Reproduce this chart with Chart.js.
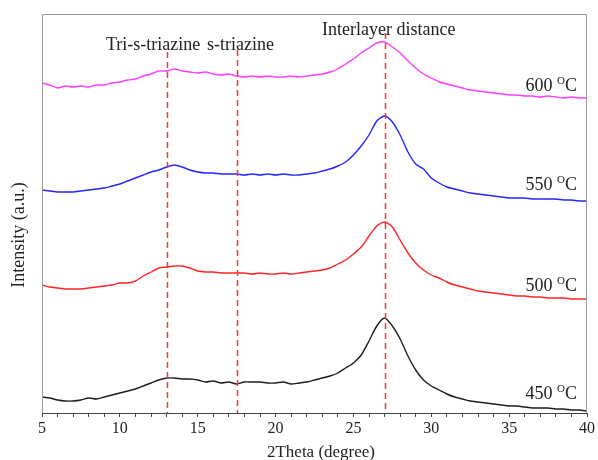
<!DOCTYPE html>
<html>
<head>
<meta charset="utf-8">
<script src="https://cdn.jsdelivr.net/npm/chart.js"></script>
<style>
	html, body { margin: 0; padding: 0; background: #fff; }
	#wrap { width: 598px; height: 460px; }
</style>
</head>
<body>
<div id="wrap"><canvas id="xrdChart" width="598" height="460"></canvas></div>
<script>
//
// data (intensity in arbitrary units)
//
var twoTheta = [5, 5.5, 6, 6.5, 7, 7.5, 8, 8.5, 9, 9.5, 10, 10.5, 11, 11.5, 12, 12.5, 13, 13.5, 14, 14.5,
	15, 15.5, 16, 16.5, 17, 17.5, 18, 18.5, 19, 19.5, 20, 20.5, 21, 21.5, 22, 22.5, 23, 23.5, 24, 24.5,
	25, 25.5, 26, 26.5, 27, 27.5, 28, 28.5, 29, 29.5, 30, 30.5, 31, 31.5, 32, 32.5, 33, 33.5, 34, 34.5,
	35, 35.5, 36, 36.5, 37, 37.5, 38, 38.5, 39, 39.5, 40];

var int450 = [16, 15, 13, 12, 12, 13, 15, 14, 16, 18, 20, 22, 24, 27, 30, 33, 35, 35, 34, 34,
	33, 31, 32, 30, 31, 29, 31, 31, 31, 30, 30, 31, 29, 30, 31, 33, 35, 37, 40, 45,
	50, 58, 72, 87, 95, 87, 74, 57, 43, 33, 27, 23, 19, 16, 14, 12, 11, 10, 9, 8,
	7, 7, 6, 5, 5, 5, 4, 4, 3, 3, 2];

var int500 = [128, 126, 125, 124, 124, 124, 125, 126, 127, 128, 130, 130, 132, 137, 141, 145, 146, 147, 147, 145,
	142, 141, 141, 140, 140, 140, 140, 139, 140, 139, 139, 140, 139, 140, 141, 142, 143, 145, 149, 153,
	159, 166, 177, 187, 191, 186, 173, 160, 150, 143, 138, 135, 131, 128, 126, 124, 122, 121, 120, 119,
	118, 117, 117, 116, 116, 115, 115, 115, 114, 114, 114];

var int550 = [223, 222, 221, 221, 221, 222, 223, 224, 225, 227, 229, 232, 235, 238, 241, 243, 246, 248, 246, 243,
	241, 240, 240, 239, 239, 239, 238, 239, 238, 239, 238, 239, 238, 238, 239, 240, 242, 244, 247, 251,
	258, 267, 278, 292, 297, 291, 278, 261, 249, 244, 235, 230, 226, 224, 222, 220, 219, 218, 217, 216,
	215, 215, 215, 214, 214, 214, 214, 213, 213, 212, 212];

var int600 = [330, 328, 325, 327, 326, 327, 326, 328, 328, 330, 331, 333, 334, 337, 339, 342, 342, 344, 342, 341,
	340, 341, 339, 338, 339, 337, 336, 337, 336, 337, 336, 336, 337, 336, 337, 338, 339, 341, 344, 349,
	354, 360, 365, 370, 371, 366, 360, 352, 345, 339, 335, 331, 329, 327, 325, 323, 322, 321, 320, 319,
	318, 318, 317, 317, 316, 317, 316, 315, 316, 315, 315];

var temperatures = ["450", "500", "550", "600"];
var peakPositions = [13, 17.5, 27];
var peakLabels = ["Tri-s-triazine", "s-triazine", "Interlayer distance"];

var SERIF = '"Liberation Serif", "Times New Roman", serif';

function toPoints(xs, ys) {
	return xs.map(function(x, i) {
		return { x: x, y: ys[i] };
	});
}

// frame, dashed peak markers and all the free text
var xrdDecor = {
	id: 'xrdDecor',
	afterDatasetsDraw: function(chart) {
		var ctx = chart.ctx;
		var area = chart.chartArea;
		var xs = chart.scales.x;

		ctx.save();

		// box (bottom side is the x axis border)
		ctx.strokeStyle = '#9a9a9a';
		ctx.lineWidth = 1;
		ctx.beginPath();
		ctx.moveTo(area.left + 0.5, area.bottom);
		ctx.lineTo(area.left + 0.5, area.top + 0.5);
		ctx.lineTo(area.right - 0.5, area.top + 0.5);
		ctx.lineTo(area.right - 0.5, area.bottom);
		ctx.stroke();

		// dashed peak lines
		var lineTops = [52, 50, 33];
		ctx.strokeStyle = '#ff3333';
		ctx.lineWidth = 1.5;
		ctx.setLineDash([6, 4]);
		peakPositions.forEach(function(p, i) {
			var px = Math.round(xs.getPixelForValue(p)) + 0.5;
			ctx.beginPath();
			ctx.moveTo(px, lineTops[i]);
			ctx.lineTo(px, area.bottom);
			ctx.stroke();
		});
		ctx.setLineDash([]);

		// peak names
		var labelPos = [[106, 50], [207, 50], [322, 34.5]];
		ctx.fillStyle = '#222';
		ctx.font = '18px ' + SERIF;
		ctx.textAlign = 'left';
		ctx.textBaseline = 'alphabetic';
		peakLabels.forEach(function(t, i) {
			ctx.fillText(t, labelPos[i][0], labelPos[i][1]);
		});

		// temperature tags, right aligned, with the raised "O"
		var tagBase = [399, 291, 190, 91];
		var rightEdge = 577;
		temperatures.forEach(function(t, i) {
			ctx.font = '18px ' + SERIF;
			var w1 = ctx.measureText(t + ' ').width;
			var w3 = ctx.measureText('C').width;
			ctx.font = '11px ' + SERIF;
			var w2 = ctx.measureText('O').width;
			var x0 = rightEdge - (w1 + w2 + w3);
			ctx.font = '18px ' + SERIF;
			ctx.fillText(t + ' ', x0, tagBase[i]);
			ctx.fillText('C', x0 + w1 + w2, tagBase[i]);
			ctx.font = '11px ' + SERIF;
			ctx.fillText('O', x0 + w1, tagBase[i] - 7);
		});

		// axis titles
		ctx.font = '17px ' + SERIF;
		ctx.textAlign = 'center';
		ctx.fillText('2Theta (degree)', 321, 457);

		ctx.translate(24, 235);
		ctx.rotate(-Math.PI / 2);
		ctx.font = '18px ' + SERIF;
		ctx.fillText('Intensity (a.u.)', 0, 0);

		ctx.restore();
	}
};

function lineSet(label, ys, color) {
	return {
		label: label,
		data: toPoints(twoTheta, ys),
		borderColor: color,
		borderWidth: 1.4,
		pointRadius: 0,
		tension: 0.25,
		fill: false
	};
}

var ctx = document.getElementById("xrdChart");

var xrdChart = new Chart(ctx, {
	type: 'line',
	data: {
		datasets: [
			lineSet(temperatures[0] + ' \u00B0C', int450, '#1e1e1e'),
			lineSet(temperatures[1] + ' \u00B0C', int500, '#ff2424'),
			lineSet(temperatures[2] + ' \u00B0C', int550, '#2626ff'),
			lineSet(temperatures[3] + ' \u00B0C', int600, '#ff3cff')
		]
	},
	options: {
		responsive: false,
		animation: false,
		layout: { padding: { left: 42, right: 11, top: 14, bottom: 0 } },
		plugins: {
			legend: { display: false },
			tooltip: { enabled: false }
		},
		scales: {
			x: {
				type: 'linear',
				min: 5,
				max: 40,
				afterFit: function(scale) { scale.height = 47; },
				border: { display: true, color: '#444', width: 1 },
				grid: { drawOnChartArea: false, drawTicks: true, tickLength: 4, color: '#444' },
				ticks: {
					stepSize: 1,
					autoSkip: false,
					maxRotation: 0,
					padding: 2,
					color: '#222',
					font: { family: SERIF, size: 16 },
					callback: function(v) { return v % 5 === 0 ? String(v) : ''; }
				}
			},
			y: {
				display: false,
				min: 0,
				max: 399
			}
		}
	},
	plugins: [xrdDecor]
});
</script>
</body>
</html>
